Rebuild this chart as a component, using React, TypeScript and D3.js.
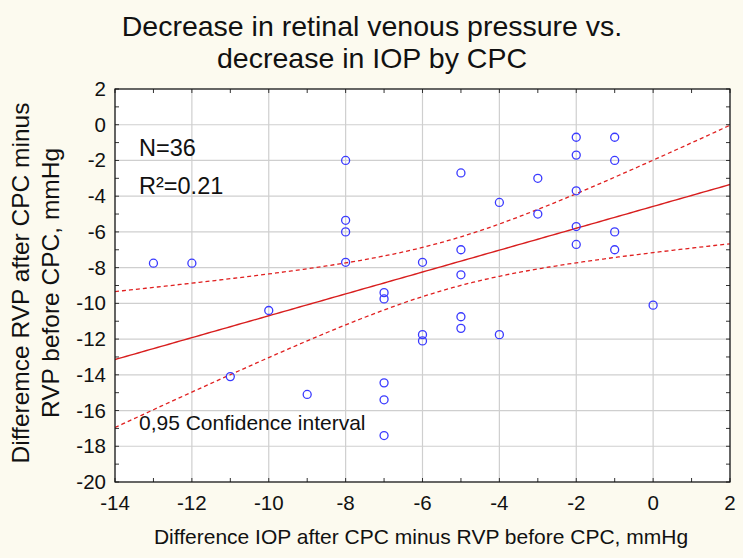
import React from 'react';
import * as d3 from 'd3';

// IOP change (x) and RVP change (y) per eye, mmHg
const iopDiff = [
  -13, -12, -11, -10, -9,
  -8, -8, -8, -8,
  -7, -7, -7, -7, -7,
  -6, -6, -6,
  -5, -5, -5, -5, -5,
  -4, -4,
  -3, -3,
  -2, -2, -2, -2, -2,
  -1, -1, -1, -1,
  0,
];
const rvpDiff = [
  -7.75, -7.75, -14.1, -10.4, -15.1,
  -2, -5.35, -6, -7.7,
  -9.4, -9.75, -14.45, -15.4, -17.4,
  -7.7, -11.75, -12.1,
  -2.7, -7, -8.4, -10.75, -11.4,
  -4.35, -11.75,
  -3, -5,
  -0.7, -1.7, -3.7, -5.7, -6.7,
  -0.7, -2, -6, -7,
  -10.1,
];

const xTicks = [-14, -12, -10, -8, -6, -4, -2, 0, 2];
const yTicks = [2, 0, -2, -4, -6, -8, -10, -12, -14, -16, -18, -20];

// two-sided 95% Student t for df = 34
const T_CRIT = 2.032;

const W = 743;
const H = 558;
const margin = { left: 115, right: 13, top: 89, bottom: 76 };
const FONT = '"Liberation Sans", Arial, sans-serif';

export default function App() {
  const innerW = W - margin.left - margin.right;
  const innerH = H - margin.top - margin.bottom;

  const x = d3.scaleLinear().domain([-14, 2]).range([0, innerW]);
  const y = d3.scaleLinear().domain([-20, 2]).range([innerH, 0]);

  // least-squares fit and confidence band of the mean
  const n = iopDiff.length;
  const mx = d3.mean(iopDiff) as number;
  const my = d3.mean(rvpDiff) as number;
  let sxx = 0;
  let sxy = 0;
  let syy = 0;
  for (let i = 0; i < n; i++) {
    sxx += (iopDiff[i] - mx) ** 2;
    sxy += (iopDiff[i] - mx) * (rvpDiff[i] - my);
    syy += (rvpDiff[i] - my) ** 2;
  }
  const slope = sxy / sxx;
  const intercept = my - slope * mx;
  const s = Math.sqrt((syy - slope * sxy) / (n - 2));
  const r2 = (sxy * sxy) / (sxx * syy);

  const xs = d3.range(-14, 2.0001, 0.1);
  const fit = (v: number) => intercept + slope * v;
  const half = (v: number) => T_CRIT * s * Math.sqrt(1 / n + (v - mx) ** 2 / sxx);

  const fitPath = d3.line<number>().x((v) => x(v)).y((v) => y(fit(v)))(xs);
  const upperPath = d3.line<number>().x((v) => x(v)).y((v) => y(fit(v) + half(v)))(xs);
  const lowerPath = d3.line<number>().x((v) => x(v)).y((v) => y(fit(v) - half(v)))(xs);

  const minorX = d3.range(-14, 2.001, 1);
  const minorY = d3.range(-20, 2.001, 1);
  const tk = 4;

  return (
    <svg
      width={W}
      height={H}
      style={{ position: 'absolute', left: 0, top: 0, background: '#fcfaef' }}
      fontFamily={FONT}
    >
      <text x={372} y={36} textAnchor="middle" fontSize={28.5} fill="#111">
        Decrease in retinal venous pressure vs.
      </text>
      <text x={372} y={68} textAnchor="middle" fontSize={28.5} fill="#111">
        decrease in IOP by CPC
      </text>

      <g transform={`translate(${margin.left},${margin.top})`}>
        <rect width={innerW} height={innerH} fill="#ffffff" />
        <defs>
          <clipPath id="plot-clip">
            <rect width={innerW} height={innerH} />
          </clipPath>
        </defs>

        {/* grid */}
        {xTicks.map((t) => (
          <line key={`gx${t}`} x1={x(t)} x2={x(t)} y1={0} y2={innerH} stroke="#cfcfcf" strokeWidth={1.2} />
        ))}
        {yTicks.map((t) => (
          <line key={`gy${t}`} x1={0} x2={innerW} y1={y(t)} y2={y(t)} stroke="#cfcfcf" strokeWidth={1.2} />
        ))}

        {/* inner ticks on all four sides */}
        {minorX.map((t) => (
          <g key={`tx${t}`} stroke="#333" strokeWidth={1}>
            <line x1={x(t)} x2={x(t)} y1={innerH} y2={innerH - tk} />
            <line x1={x(t)} x2={x(t)} y1={0} y2={tk} />
          </g>
        ))}
        {minorY.map((t) => (
          <g key={`ty${t}`} stroke="#333" strokeWidth={1}>
            <line x1={0} x2={tk} y1={y(t)} y2={y(t)} />
            <line x1={innerW} x2={innerW - tk} y1={y(t)} y2={y(t)} />
          </g>
        ))}

        <g clipPath="url(#plot-clip)" fill="none">
          <path d={upperPath ?? ''} stroke="#e02020" strokeWidth={1.3} strokeDasharray="4,3" />
          <path d={lowerPath ?? ''} stroke="#e02020" strokeWidth={1.3} strokeDasharray="4,3" />
          <path d={fitPath ?? ''} stroke="#d81e1e" strokeWidth={1.4} />
        </g>

        {iopDiff.map((v, i) => (
          <circle
            key={i}
            cx={x(v)}
            cy={y(rvpDiff[i])}
            r={4}
            fill="none"
            stroke="#3a3aff"
            strokeWidth={1.3}
          />
        ))}

        <rect width={innerW} height={innerH} fill="none" stroke="#111" strokeWidth={1.2} />

        {/* tick labels */}
        {xTicks.map((t) => (
          <text key={`lx${t}`} x={x(t)} y={innerH + 28} textAnchor="middle" fontSize={20.5} fill="#111">
            {t}
          </text>
        ))}
        {yTicks.map((t) => (
          <text key={`ly${t}`} x={-9} y={y(t) + 7} textAnchor="end" fontSize={20.5} fill="#111">
            {t}
          </text>
        ))}

        <text x={24} y={67} fontSize={23.5} fill="#111">N={n}</text>
        <text x={24} y={105} fontSize={23.5} fill="#111">R²={r2.toFixed(2)}</text>
        <text x={24} y={341} fontSize={21} fill="#111">0,95 Confidence interval</text>
      </g>

      <text x={421} y={544} textAnchor="middle" fontSize={21} fill="#111">
        Difference IOP after CPC minus RVP before CPC, mmHg
      </text>
      <g transform="translate(0,283)">
        <text transform="rotate(-90)" x={0} y={29} textAnchor="middle" fontSize={24.5} fill="#111">
          Differemce RVP after CPC minus
        </text>
        <text transform="rotate(-90)" x={0} y={59} textAnchor="middle" fontSize={24.5} fill="#111">
          RVP before CPC, mmHg
        </text>
      </g>
    </svg>
  );
}
